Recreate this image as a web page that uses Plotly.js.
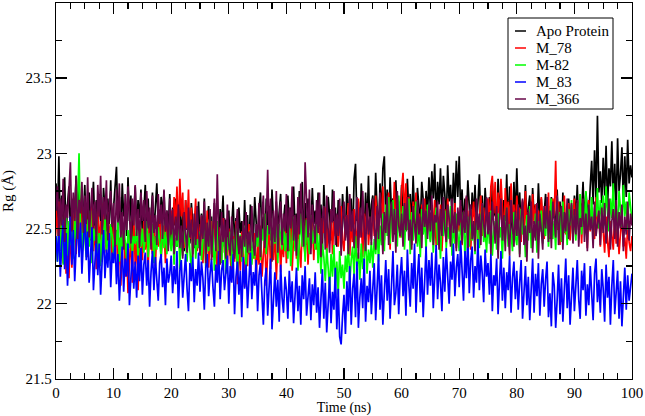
<!DOCTYPE html>
<html>
<head>
<meta charset="utf-8">
<script src="https://cdn.plot.ly/plotly-3.0.1.min.js"></script>
<style>html,body{margin:0;padding:0;background:#fff;}#chart{width:645px;height:416px;}</style>
</head>
<body>
<div id="chart"></div>
<script>
// Series names
const seriesNames = ["Apo Protein", "M_78", "M-82", "M_83", "M_366"];
const seriesColors = ["#000000", "#ff0000", "#00ff00", "#0000ff", "#670748"];

const apo = [
22.80,22.55,22.98,22.46,22.72,22.51,22.84,22.43,22.66,22.78,22.49,22.70,22.41,22.62,22.85,22.52,22.76,22.45,22.68,22.57,
22.79,22.47,22.63,22.74,22.42,22.58,22.81,22.50,22.69,22.44,22.73,22.56,22.40,22.77,22.61,22.48,22.70,22.53,22.82,22.46,
22.64,22.75,22.91,22.52,22.71,22.43,22.80,22.58,22.67,22.45,22.84,22.55,22.72,22.41,22.63,22.78,22.49,22.69,22.57,22.76,
22.44,22.65,22.79,22.51,22.70,22.42,22.60,22.74,22.47,22.67,22.80,22.53,22.43,22.71,22.59,22.75,22.46,22.62,22.50,22.73,
22.41,22.64,22.52,22.70,22.38,22.57,22.66,22.44,22.61,22.35,22.69,22.49,22.58,22.40,22.67,22.53,22.37,22.62,22.46,22.68,
22.39,22.60,22.48,22.70,22.33,22.55,22.65,22.42,22.58,22.31,22.67,22.45,22.52,22.36,22.63,22.50,22.72,22.38,22.56,22.44,
22.62,22.34,22.51,22.68,22.40,22.57,22.30,22.64,22.47,22.55,22.37,22.69,22.43,22.59,22.33,22.66,22.49,22.41,22.71,22.52,
22.38,22.63,22.74,22.46,22.58,22.36,22.70,22.52,22.65,22.42,22.76,22.55,22.39,22.68,22.48,22.61,22.73,22.44,22.57,22.66,
22.41,22.72,22.54,22.64,22.37,22.78,22.50,22.60,22.43,22.75,22.56,22.81,22.46,22.67,22.39,22.70,22.58,22.48,22.77,22.53,
22.62,22.40,22.74,22.51,22.66,22.37,22.79,22.55,22.45,22.71,22.59,22.42,22.76,22.50,22.64,22.38,22.69,22.53,22.47,22.73,
22.57,22.44,22.78,22.62,22.49,22.70,22.41,22.83,22.93,22.55,22.68,22.46,22.80,22.60,22.43,22.74,22.52,22.85,22.48,22.66,
22.72,22.51,22.87,22.63,22.47,22.80,22.58,22.90,22.98,22.55,22.76,22.49,22.84,22.61,22.70,22.46,22.82,22.57,22.68,22.52,
22.79,22.56,22.66,22.48,22.83,22.60,22.73,22.50,22.85,22.58,22.46,22.77,22.63,22.53,22.81,22.69,22.49,22.75,22.59,22.84,
22.62,22.88,22.70,22.93,22.55,22.81,22.66,22.90,22.58,22.85,22.73,22.52,22.92,22.68,22.79,22.57,22.87,22.64,22.95,22.71,
22.98,22.60,22.76,22.49,22.70,22.55,22.82,22.63,22.47,22.74,22.58,22.79,22.51,22.67,22.86,22.54,22.72,22.46,22.77,22.61,
22.53,22.71,22.44,22.80,22.58,22.66,22.48,22.83,22.61,22.75,22.42,22.69,22.55,22.86,22.50,22.78,22.63,22.46,22.81,22.57,
22.90,22.60,22.74,22.48,22.68,22.55,22.79,22.51,22.64,22.72,22.46,22.77,22.58,22.66,22.49,22.80,22.56,22.70,22.47,22.62,
22.73,22.50,22.65,22.43,22.71,22.57,22.62,22.45,22.76,22.53,22.68,22.41,22.74,22.55,22.60,22.47,22.70,22.52,22.66,22.44,
22.72,22.56,22.79,22.49,22.67,22.60,22.81,22.53,22.74,22.63,22.58,22.78,22.95,22.66,23.02,22.70,23.25,22.74,22.88,22.67,
22.97,22.72,23.05,22.64,22.90,22.78,23.08,22.69,22.93,22.62,23.10,22.75,22.86,23.04,22.66,22.98,22.71,23.09,22.80,22.92,
22.84];

const m78 = [
22.62,22.45,22.68,22.38,22.55,22.27,22.60,22.20,22.41,22.17,22.52,22.24,22.48,22.65,22.33,22.57,22.42,22.70,22.36,22.59,
22.46,22.66,22.31,22.58,22.43,22.71,22.35,22.52,22.23,22.63,22.40,22.55,22.28,22.67,22.47,22.34,22.61,22.44,22.53,22.30,
22.57,22.37,22.49,22.21,22.44,22.12,22.35,22.53,22.18,22.40,22.07,22.31,22.46,22.14,22.58,22.26,22.42,22.09,22.38,22.50,
22.29,22.55,22.36,22.47,22.22,22.59,22.41,22.33,22.56,22.25,22.49,22.38,22.61,22.30,22.45,22.52,22.27,22.58,22.39,22.48,
22.62,22.40,22.71,22.52,22.78,22.45,22.83,22.58,22.74,22.37,22.69,22.50,22.76,22.43,22.64,22.33,22.57,22.70,22.35,22.53,
22.42,22.58,22.27,22.49,22.36,22.62,22.24,22.45,22.55,22.31,22.60,22.38,22.21,22.51,22.44,22.29,22.57,22.34,22.48,22.26,
22.50,22.32,22.17,22.45,22.28,22.55,22.13,22.40,22.22,22.48,22.35,22.11,22.43,22.25,22.53,22.19,22.38,22.30,22.47,22.15,
22.41,22.26,22.52,22.18,22.36,22.46,22.12,22.33,22.55,22.23,22.44,22.29,22.50,22.16,22.39,22.48,22.21,22.42,22.31,22.54,
22.27,22.49,22.35,22.58,22.22,22.45,22.53,22.30,22.60,22.38,22.24,22.51,22.43,22.32,22.57,22.26,22.47,22.37,22.55,22.29,
22.52,22.36,22.61,22.43,22.31,22.57,22.47,22.64,22.34,22.50,22.40,22.62,22.33,22.55,22.45,22.59,22.38,22.53,22.65,22.42,
22.35,22.58,22.46,22.67,22.32,22.54,22.41,22.63,22.50,22.37,22.70,22.44,22.56,22.31,22.60,22.48,22.66,22.39,22.53,22.43,
22.64,22.45,22.72,22.52,22.38,22.69,22.57,22.78,22.42,22.61,22.50,22.74,22.36,22.66,22.55,22.81,22.47,22.70,22.59,22.44,
22.76,22.87,22.58,22.80,22.49,22.71,22.62,22.39,22.68,22.53,22.74,22.43,22.60,22.37,22.66,22.51,22.70,22.45,22.57,22.64,
22.42,22.61,22.53,22.69,22.38,22.58,22.47,22.66,22.35,22.55,22.63,22.44,22.70,22.50,22.40,22.60,22.52,22.67,22.37,22.57,
22.48,22.65,22.39,22.59,22.54,22.71,22.43,22.62,22.36,22.56,22.68,22.46,22.61,22.40,22.53,22.72,22.45,22.64,22.50,22.58,
22.70,22.52,22.78,22.85,22.60,22.81,22.47,22.74,22.56,22.83,22.63,22.42,22.77,22.58,22.68,22.44,22.80,22.54,22.66,22.49,
22.72,22.55,22.64,22.41,22.69,22.50,22.75,22.38,22.61,22.57,22.46,22.73,22.53,22.66,22.40,22.62,22.48,22.71,22.56,22.43,
22.65,22.52,22.74,22.44,22.60,22.70,22.58,22.95,22.49,22.68,22.39,22.63,22.55,22.72,22.46,22.59,22.67,22.42,22.61,22.53,
22.70,22.45,22.62,22.56,22.73,22.40,22.66,22.51,22.58,22.37,22.69,22.48,22.64,22.54,22.43,22.71,22.50,22.60,22.38,22.57,
22.49,22.34,22.58,22.42,22.31,22.55,22.46,22.36,22.60,22.40,22.52,22.33,22.47,22.57,22.38,22.44,22.30,22.53,22.41,22.35,
22.45];

const m82 = [
22.41,22.28,22.52,22.35,22.58,22.26,22.47,22.60,22.32,22.55,22.39,22.49,22.30,22.57,22.43,22.65,23.00,22.50,22.36,22.59,
22.44,22.31,22.56,22.38,22.62,22.27,22.50,22.42,22.58,22.33,22.47,22.25,22.54,22.40,22.60,22.35,22.48,22.29,22.53,22.45,
22.32,22.51,22.39,22.55,22.28,22.46,22.36,22.53,22.42,22.30,22.49,22.37,22.56,22.33,22.45,22.40,22.52,22.29,22.48,22.38,
22.50,22.34,22.44,22.55,22.31,22.47,22.39,22.53,22.27,22.45,22.36,22.51,22.42,22.30,22.54,22.37,22.48,22.33,22.52,22.41,
22.35,22.50,22.26,22.44,22.38,22.55,22.23,22.46,22.32,22.52,22.40,22.28,22.49,22.36,22.21,22.45,22.54,22.30,22.43,22.37,
22.48,22.29,22.41,22.53,22.24,22.46,22.35,22.62,22.33,22.50,22.22,22.42,22.55,22.31,22.45,22.27,22.51,22.38,22.20,22.44,
22.36,22.48,22.25,22.43,22.32,22.50,22.21,22.40,22.46,22.28,22.37,22.52,22.23,22.45,22.34,22.49,22.26,22.41,22.30,22.47,
22.38,22.55,22.29,22.50,22.42,22.60,22.33,22.52,22.46,22.57,22.31,22.48,22.40,22.58,22.27,22.53,22.44,22.36,22.56,22.35,
22.47,22.30,22.54,22.25,22.41,22.58,22.35,22.50,22.22,22.45,22.60,22.38,22.52,22.28,22.56,22.43,22.33,22.59,22.40,22.49,
22.36,22.53,22.27,22.46,22.20,22.40,22.31,22.15,22.37,22.24,22.09,22.33,22.18,22.39,22.12,22.28,22.06,22.35,22.17,22.26,
22.10,22.32,22.21,22.42,22.14,22.29,22.38,22.19,22.45,22.25,22.34,22.16,22.40,22.23,22.31,22.44,22.20,22.36,22.27,22.41,
22.24,22.43,22.33,22.48,22.28,22.52,22.39,22.60,22.35,22.66,22.45,22.71,22.40,22.58,22.69,22.47,22.63,22.38,22.72,22.55,
22.44,22.65,22.36,22.58,22.49,22.70,22.33,22.61,22.42,22.55,22.68,22.38,22.52,22.31,22.63,22.46,22.57,22.35,22.66,22.50,
22.41,22.59,22.34,22.53,22.64,22.39,22.48,22.30,22.57,22.45,22.62,22.37,22.51,22.43,22.65,22.32,22.55,22.40,22.60,22.47,
22.35,22.54,22.44,22.61,22.31,22.50,22.58,22.38,22.63,22.42,22.52,22.33,22.59,22.46,22.37,22.56,22.65,22.41,22.49,22.34,
22.57,22.40,22.62,22.32,22.48,22.55,22.36,22.60,22.44,22.51,22.30,22.58,22.43,22.64,22.38,22.53,22.47,22.35,22.61,22.45,
22.39,22.56,22.33,22.63,22.46,22.52,22.31,22.59,22.42,22.65,22.37,22.50,22.44,22.60,22.34,22.55,22.48,22.62,22.40,22.53,
22.45,22.64,22.38,22.58,22.70,22.43,22.55,22.36,22.66,22.50,22.61,22.41,22.68,22.47,22.57,22.39,22.63,22.52,22.69,22.44,
22.59,22.42,22.67,22.51,22.73,22.46,22.62,22.55,22.75,22.48,22.66,22.53,22.71,22.44,22.64,22.58,22.77,22.50,22.69,22.56,
22.72,22.52,22.78,22.60,22.48,22.70,22.57,22.80,22.54,22.66,22.47,22.75,22.61,22.51,22.79,22.58,22.68,22.49,22.74,22.63,
22.55];

const m83 = [
22.45,22.28,22.52,22.18,22.40,22.56,22.23,22.47,22.12,22.35,22.58,22.26,22.49,22.15,22.42,22.60,22.31,22.54,22.20,22.46,
22.62,22.29,22.48,22.14,22.38,22.51,22.09,22.33,22.45,22.19,22.40,22.06,22.30,22.49,22.17,22.36,22.24,22.47,22.11,22.34,
22.27,22.42,22.13,22.33,22.02,22.25,22.38,22.08,22.30,22.18,22.40,21.99,22.22,22.35,22.10,22.28,22.04,22.32,22.15,22.37,
22.06,22.26,22.34,22.12,22.29,21.98,22.21,22.35,22.09,22.31,22.16,22.02,22.27,22.33,22.11,22.24,21.99,22.30,22.14,22.20,
22.32,22.07,22.25,22.13,22.35,21.97,22.22,22.29,22.04,22.18,22.33,22.10,21.95,22.27,22.15,22.31,22.01,22.23,22.12,22.34,
22.08,22.28,22.17,21.96,22.24,22.33,22.05,22.20,22.30,22.11,21.98,22.26,22.14,22.35,22.03,22.22,22.29,22.09,22.19,22.32,
22.00,22.25,22.14,22.33,21.93,22.18,22.28,22.06,22.22,21.91,22.31,22.10,22.26,21.97,22.16,22.34,22.03,22.21,22.12,22.29,
21.95,22.19,22.27,22.02,21.86,22.15,22.24,21.92,22.10,22.30,21.83,22.07,22.21,21.98,22.16,21.88,22.26,22.04,21.94,22.18,
22.09,21.90,22.22,22.01,22.15,21.87,22.06,22.24,21.95,22.12,21.86,22.19,22.03,22.25,21.92,22.08,22.17,21.89,22.13,21.99,
22.21,21.94,22.11,21.84,22.05,22.23,21.90,22.14,21.81,22.02,22.18,21.87,22.08,21.96,22.24,21.83,22.10,21.78,21.73,21.92,
22.06,21.80,22.15,21.95,22.25,21.86,22.10,22.20,21.91,22.28,21.84,22.04,22.17,21.97,22.30,21.88,22.12,22.01,22.22,21.93,
22.14,22.27,21.89,22.08,22.33,21.96,22.19,21.86,22.11,22.29,22.02,22.23,21.90,22.16,22.35,21.99,22.07,22.26,21.93,22.18,
22.31,22.05,22.22,21.92,22.36,22.13,21.98,22.27,22.10,22.40,21.94,22.18,22.33,22.01,22.24,21.91,22.15,22.38,22.06,22.29,
22.12,22.34,21.97,22.21,22.39,22.03,22.26,22.14,21.95,22.31,22.08,22.37,22.19,22.00,22.28,22.16,22.40,22.05,22.24,22.33,
22.11,22.42,22.22,22.02,22.35,22.17,22.45,22.07,22.29,22.38,22.04,22.25,22.14,22.43,22.09,22.32,22.20,22.01,22.36,22.18,
22.27,22.06,22.33,21.95,22.19,22.12,22.30,21.93,22.15,22.35,22.02,22.24,21.97,22.21,22.09,22.32,21.94,22.17,22.28,22.03,
22.22,21.96,22.14,22.29,21.90,22.08,22.25,21.99,22.18,21.89,22.11,22.30,21.94,22.20,22.05,22.27,21.92,22.13,22.23,21.98,
22.16,22.28,21.91,22.07,21.85,22.21,22.12,21.84,22.02,22.26,21.93,22.17,21.88,22.10,22.30,21.97,22.19,21.86,22.06,22.24,
21.95,22.15,22.29,22.03,21.90,22.22,22.09,22.27,21.92,22.13,21.99,22.25,22.06,21.89,22.20,22.30,22.01,22.16,21.94,22.23,
22.10,21.88,22.26,22.04,22.18,21.86,22.12,22.29,21.93,22.07,22.22,21.90,22.15,21.85,22.08,22.24,21.96,22.19,22.02,22.14,
22.20];

const m366 = [
22.62,22.78,22.45,22.70,22.52,22.83,22.41,22.66,22.57,22.80,22.94,22.48,22.74,22.55,22.85,22.43,22.69,22.60,22.81,22.47,
22.72,22.53,22.84,22.44,22.64,22.77,22.50,22.68,22.40,22.79,22.58,22.85,22.46,22.71,22.56,22.82,22.42,22.65,22.75,22.51,
22.67,22.38,22.76,22.54,22.80,22.44,22.61,22.36,22.73,22.49,22.78,22.57,22.40,22.70,22.52,22.79,22.45,22.63,22.37,22.74,
22.55,22.69,22.41,22.75,22.50,22.64,22.36,22.72,22.47,22.59,22.39,22.73,22.53,22.66,22.43,22.76,22.48,22.62,22.35,22.70,
22.46,22.63,22.33,22.58,22.42,22.66,22.37,22.52,22.30,22.61,22.48,22.34,22.64,22.44,22.56,22.31,22.60,22.39,22.65,22.45,
22.32,22.59,22.43,22.68,22.27,22.54,22.38,22.63,22.29,22.51,22.70,22.35,22.86,22.47,22.26,22.61,22.41,22.57,22.30,22.66,
22.40,22.32,22.58,22.36,22.30,22.50,22.63,22.33,22.45,22.31,22.55,22.38,22.61,22.34,22.48,22.35,22.65,22.39,22.32,22.53,
22.44,22.67,22.31,22.58,22.72,22.37,22.52,22.89,22.46,22.70,22.28,22.62,22.41,22.75,22.34,22.56,22.68,22.39,22.60,22.48,
22.73,22.35,22.64,22.50,22.78,22.42,22.59,22.32,22.71,22.46,22.80,22.55,22.38,22.94,22.61,22.44,22.76,22.33,22.66,22.52,
22.40,22.69,22.47,22.74,22.31,22.58,22.65,22.36,22.72,22.49,22.34,22.63,22.54,22.75,22.39,22.60,22.45,22.70,22.32,22.57,
22.68,22.42,22.59,22.33,22.73,22.48,22.62,22.37,22.55,22.71,22.30,22.64,22.44,22.75,22.51,22.35,22.67,22.46,22.58,22.39,
22.70,22.50,22.36,22.65,22.43,22.74,22.55,22.33,22.61,22.47,22.72,22.39,22.57,22.68,22.41,22.63,22.34,22.75,22.52,22.45,
22.60,22.38,22.67,22.49,22.71,22.42,22.56,22.36,22.65,22.53,22.40,22.69,22.46,22.58,22.37,22.70,22.51,22.62,22.43,22.66,
22.48,22.72,22.39,22.59,22.54,22.68,22.36,22.63,22.45,22.71,22.50,22.41,22.66,22.57,22.38,22.70,22.47,22.61,22.35,22.64,
22.52,22.69,22.40,22.62,22.47,22.72,22.37,22.58,22.66,22.43,22.55,22.35,22.70,22.49,22.60,22.39,22.67,22.53,22.44,22.71,
22.46,22.61,22.33,22.68,22.51,22.40,22.65,22.30,22.57,22.70,22.42,22.59,22.35,22.64,22.48,22.32,22.69,22.53,22.38,22.62,
22.45,22.66,22.31,22.57,22.70,22.39,22.52,22.28,22.63,22.47,22.68,22.34,22.55,22.42,22.67,22.30,22.60,22.49,22.36,22.65,
22.50,22.71,22.41,22.62,22.37,22.68,22.54,22.44,22.72,22.39,22.58,22.65,22.36,22.61,22.48,22.70,22.43,22.56,22.67,22.40,
22.63,22.46,22.69,22.38,22.57,22.51,22.70,22.41,22.60,22.35,22.66,22.49,22.58,22.37,22.68,22.45,22.55,22.62,22.39,22.64,
22.47,22.67,22.40,22.59,22.70,22.36,22.55,22.63,22.43,22.69,22.38,22.61,22.50,22.66,22.35,22.58,22.46,22.68,22.42,22.60,
22.52];

const seriesValues = [apo, m78, m82, m83, m366];
const timeStart = 0, timeEnd = 100;
const xTickVals = [0, 10, 20, 30, 40, 50, 60, 70, 80, 90, 100];
const yTickVals = [21.5, 22, 22.5, 23, 23.5];
const yTickText = ["21.5", "22", "22.5", "23", "23.5"];

const FONT = '"Liberation Serif", "Times New Roman", serif';

// plot frame in pixels (for the hand-drawn legend box, which is not data)
const PLOT = { left: 56, right: 632, top: 3, bottom: 379 };
const px2x = p => (p - PLOT.left) / (PLOT.right - PLOT.left);
const px2y = p => (PLOT.bottom - p) / (PLOT.bottom - PLOT.top);
const LEG = { x0: 508, x1: 613, y0: 18, y1: 109, row0: 31, rowStep: 17, lineX0: 515, lineX1: 526, textX: 534 };

const traces = seriesValues.map((vals, k) => ({
  type: "scatter",
  mode: "lines",
  name: seriesNames[k],
  x: vals.map((_, i) => timeStart + i * (timeEnd - timeStart) / (vals.length - 1)),
  y: vals,
  line: { color: seriesColors[k], width: 1.7 },
  hoverinfo: "skip",
  showlegend: false
}));

const shapes = [{
  type: "rect", xref: "paper", yref: "paper",
  x0: px2x(LEG.x0), x1: px2x(LEG.x1), y0: px2y(LEG.y1), y1: px2y(LEG.y0),
  line: { color: "#000", width: 1 }, fillcolor: "#fff", layer: "above"
}];
const annotations = [];
seriesNames.forEach((nm, k) => {
  const yy = LEG.row0 + k * LEG.rowStep;
  shapes.push({
    type: "line", xref: "paper", yref: "paper",
    x0: px2x(LEG.lineX0), x1: px2x(LEG.lineX1), y0: px2y(yy), y1: px2y(yy),
    line: { color: seriesColors[k], width: 1.5 }, layer: "above"
  });
  annotations.push({
    xref: "paper", yref: "paper", x: px2x(LEG.textX), y: px2y(yy),
    xanchor: "left", yanchor: "middle", showarrow: false, text: nm,
    font: { family: FONT, size: 15, color: "#000" }
  });
});

const axisCommon = {
  showgrid: false,
  zeroline: false,
  showline: true,
  linecolor: "#000",
  linewidth: 1.3,
  mirror: "ticks",
  ticks: "inside",
  ticklen: 11,
  tickwidth: 1.3,
  tickcolor: "#000",
  tickfont: { family: FONT, size: 15, color: "#000" }
};

const layout = {
  width: 645,
  height: 416,
  margin: { l: 56, r: 13, t: 3, b: 37 },
  font: { family: FONT, size: 15, color: "#000" },
  paper_bgcolor: "#fff",
  plot_bgcolor: "#fff",
  showlegend: false,
  shapes: shapes,
  annotations: annotations,
  xaxis: Object.assign({}, axisCommon, {
    range: [0, 100],
    tickvals: xTickVals,
    minor: { dtick: 2.5, ticks: "inside", ticklen: 6, tickwidth: 1.3, tickcolor: "#000", showgrid: false },
    title: { text: "Time (ns)", font: { family: FONT, size: 14, color: "#000" }, standoff: 0 }
  }),
  yaxis: Object.assign({}, axisCommon, {
    range: [21.5, 23.999],
    tickvals: yTickVals,
    ticktext: yTickText,
    minor: { dtick: 0.25, tick0: 21.5, ticks: "inside", ticklen: 6, tickwidth: 1.3, tickcolor: "#000", showgrid: false },
    title: { text: "Rg (Å)", font: { family: FONT, size: 15, color: "#000" }, standoff: 8 }
  })
};

Plotly.newPlot("chart", traces, layout, { staticPlot: true, displayModeBar: false });
</script>
</body>
</html>
